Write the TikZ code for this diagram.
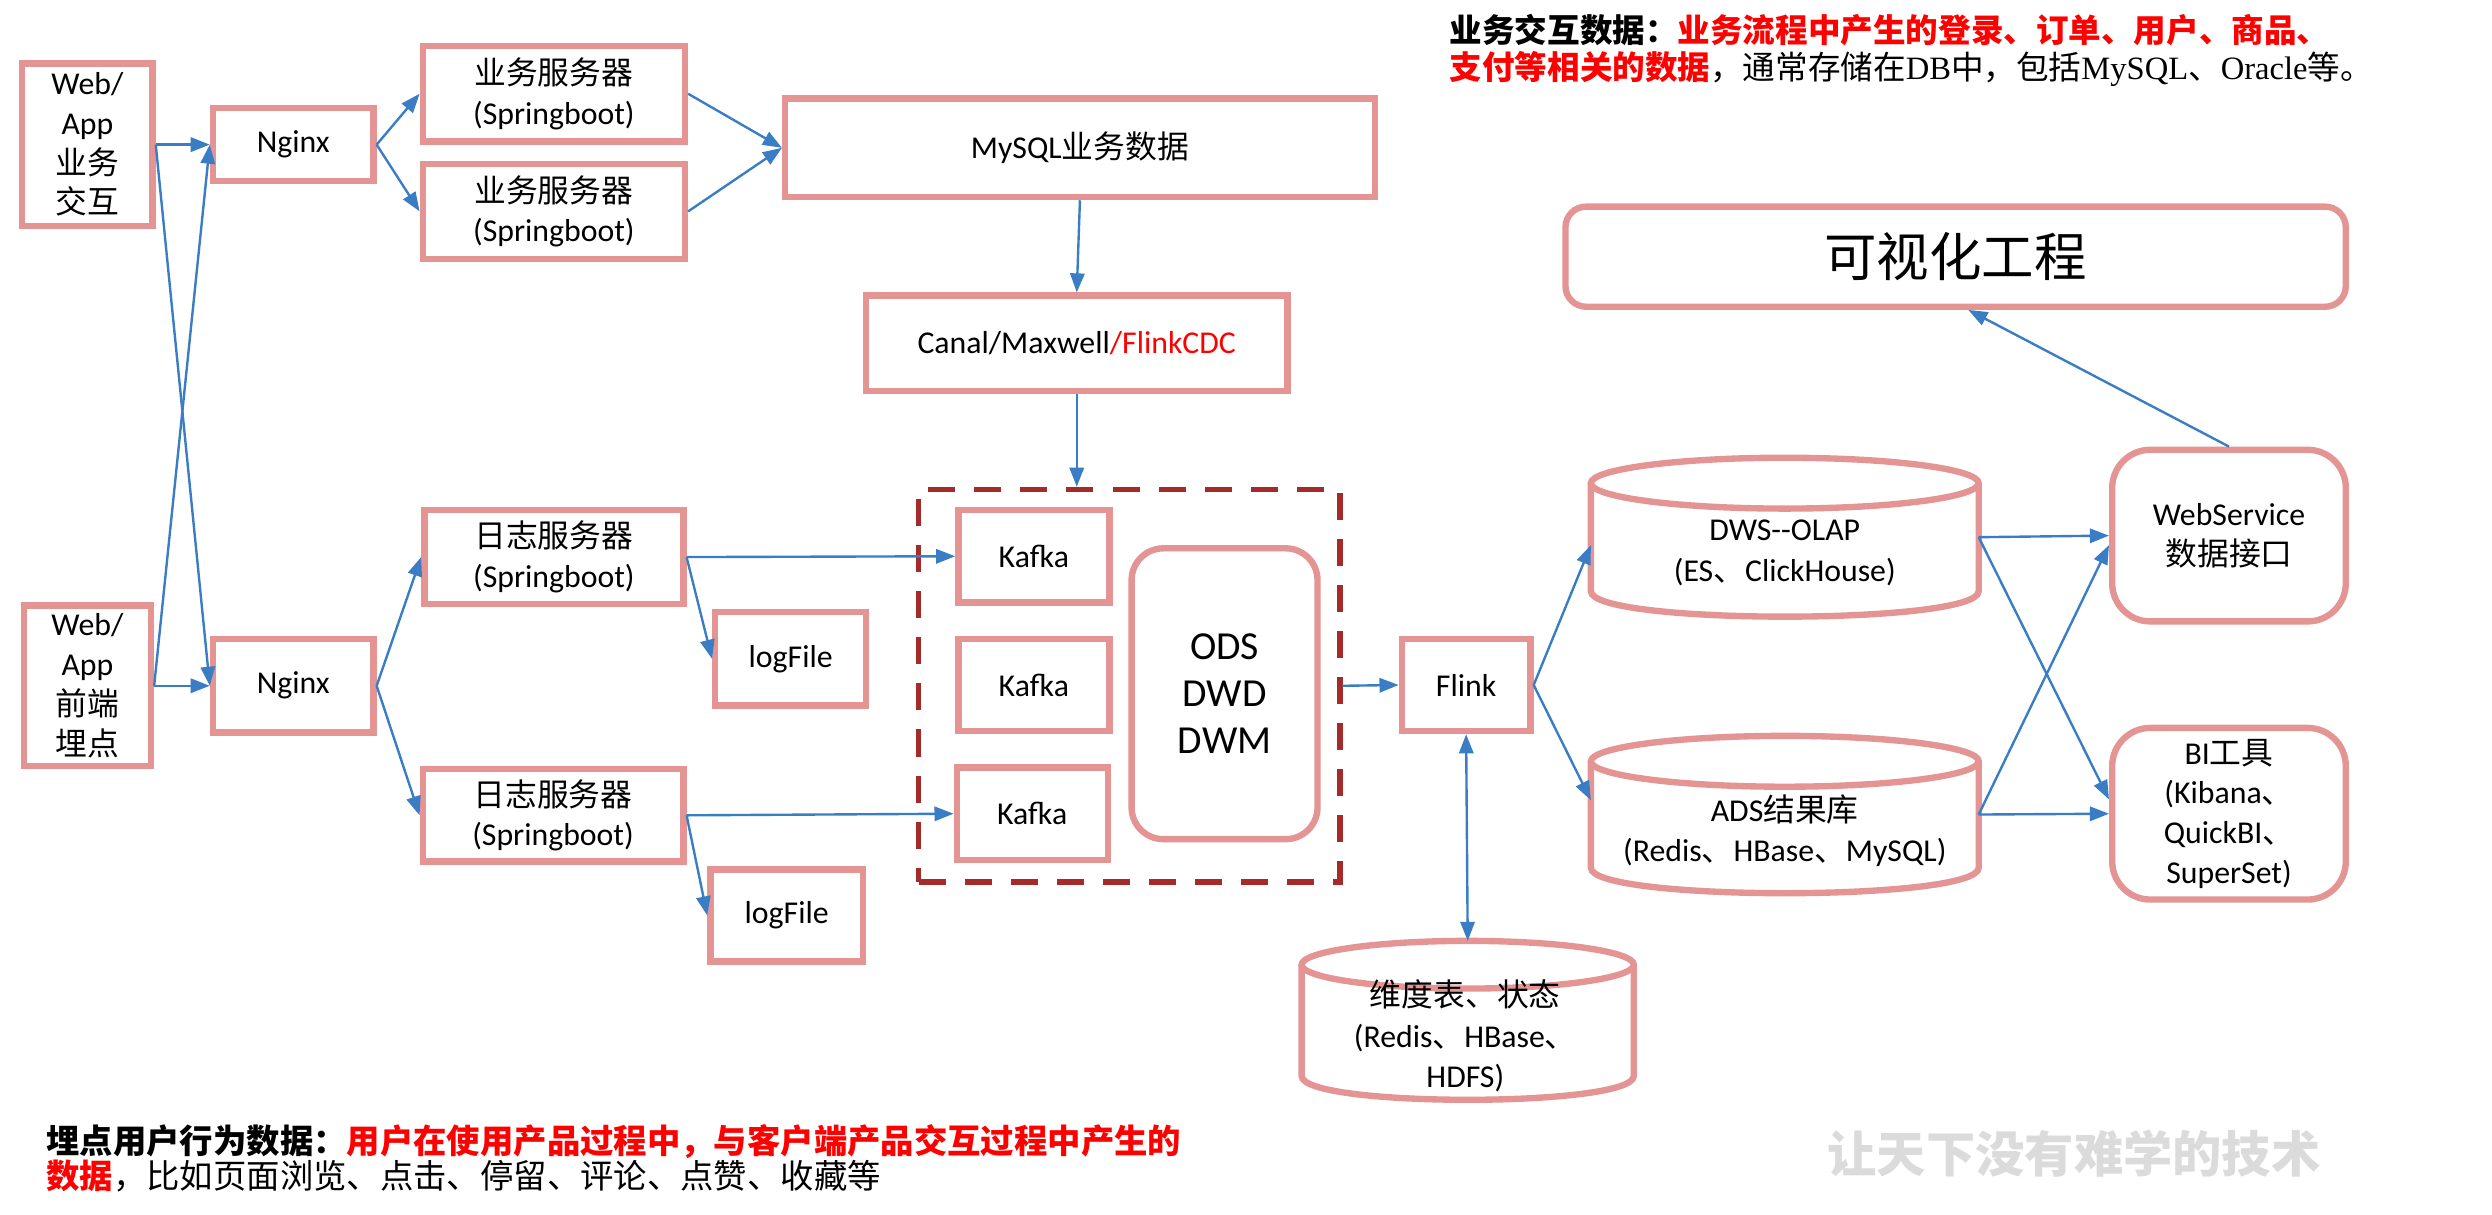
\documentclass[tikz,border=0pt]{standalone}
\usepackage{fontspec}
\setmainfont{Carlito}
\newfontfamily\cjk{Noto Sans CJK SC}
\newfontfamily\tnr{Liberation Serif}
\usetikzlibrary{arrows.meta}
\definecolor{pinkb}{HTML}{E59494}
\definecolor{dashr}{HTML}{A52A2A}
\definecolor{arrblue}{HTML}{3B7DC4}
\definecolor{txtred}{HTML}{FF0000}
\newcommand\zh[1]{{\cjk #1}}
\newcommand\dbcyl[5]{%
  \draw[pinkline] (#1,#3+#5) -- (#1,#4-#5) .. controls (#1,#4+#5/3) and (#2,#4+#5/3) .. (#2,#4-#5) -- (#2,#3+#5);
  \draw[pinkline] ({(#1+#2)/2},#3+#5) ellipse [x radius={(#2-#1)/2}, y radius=#5];
}
\begin{document}
\begin{tikzpicture}[x=1pt,y=-1pt,
  boxtext/.style={font=\fontsize{20}{25}\selectfont, align=center, inner sep=0pt},
  pinkline/.style={draw=pinkb, line width=4pt},
  pbox/.style={draw=pinkb, line width=4pt, fill=white, boxtext},
  rbox/.style={pbox, rounded corners=#1},
  dashbox/.style={draw=dashr, line width=3.5pt, dash pattern=on 17pt off 12pt, inner sep=0pt},
  anchorbox/.style={inner sep=0pt, outer sep=0pt},
  sz/.style 2 args={minimum width=#1pt, minimum height=#2pt},
  arr/.style={draw=arrblue, line width=1.5pt, -{Triangle[length=12pt,width=9pt]}},
  darr/.style={draw=arrblue, line width=1.5pt, {Triangle[length=12pt,width=9pt]}-{Triangle[length=12pt,width=9pt]}},
  notetext/.style={anchor=base west, inner sep=0pt, font=\cjk\fontsize{20.5}{23}\selectfont},
  bottext/.style={anchor=base west, inner sep=0pt, font=\cjk\fontsize{21}{22}\selectfont}
]
\useasboundingbox (0,0) rectangle (1568,764);
\fill[white] (0,0) rectangle (1568,764);

% left column
\node[pbox, sz={82}{102}] (webA) at (55,91) {Web/\\App\\\zh{业务}\\\zh{交互}};
\node[pbox, sz={80}{101}] (webB) at (55,431.5) {Web/\\App\\\zh{前端}\\\zh{埋点}};
\node[pbox, sz={101}{46}] (ngA) at (184.5,91) {Nginx};
\node[pbox, sz={101}{59}] (ngB) at (184.5,431.5) {Nginx};

% servers
\node[pbox, sz={165}{60}] (svA1) at (348.5,59) {\zh{业务服务器}\\(Springboot)};
\node[pbox, sz={165}{60}] (svA2) at (348.5,133) {\zh{业务服务器}\\(Springboot)};
\node[pbox, sz={163}{59}] (lgA) at (348.5,350.5) {\zh{日志服务器}\\(Springboot)};
\node[pbox, sz={164}{58}] (lgB) at (348,513) {\zh{日志服务器}\\(Springboot)};
\node[pbox, sz={95}{59}] (lfA) at (497.5,414.5) {logFile};
\node[pbox, sz={96}{58}] (lfB) at (495,576) {logFile};

% business data path
\node[pbox, sz={371}{62}] (mysql) at (679.5,93) {MySQL\zh{业务数据}};
\node[pbox, sz={265}{60}] (canal) at (677.5,216) {Canal/Maxwell\textcolor{txtred}{/FlinkCDC}};

% kafka group
\node[dashbox, sz={265}{247}] (dbox) at (710.5,431.5) {};
\node[pbox, sz={95}{58}] (kf1) at (650.5,350) {Kafka};
\node[pbox, sz={95}{58}] (kf2) at (650.5,431) {Kafka};
\node[pbox, sz={95}{58}] (kf3) at (649.5,512) {Kafka};
\node[rbox=20pt, sz={117}{183}, font=\fontsize{25}{29.5}\selectfont] (ods) at (770.5,436.5) {ODS\\DWD\\DWM};

\node[pbox, sz={81}{58}] (flink) at (922.5,431) {Flink};

% cylinders
\dbcyl{1001}{1245}{288}{388}{16}
\node[anchorbox, sz={244}{100}] (dws) at (1123,338) {};
\node[boxtext, font=\fontsize{20}{26}\selectfont] (dwsT) at (1123,348) {DWS-{}-OLAP\\(ES\zh{、}ClickHouse)};

\dbcyl{1001}{1245}{463}{562}{16}
\node[anchorbox, sz={244}{99}] (ads) at (1123,512.5) {};
\node[boxtext] (adsT) at (1123,522.5) {ADS\zh{结果库}\\(Redis\zh{、}HBase\zh{、}MySQL)};

\dbcyl{819}{1028}{592}{692}{15}
\node[anchorbox, sz={209}{100}] (dim) at (923.5,642) {};
\node[boxtext, font=\fontsize{20}{25.5}\selectfont] (dimT) at (922,652) {\zh{维度表、状态}\\(Redis\zh{、}HBase\zh{、}\\HDFS)};

% right column
\node[rbox=13pt, sz={491}{63}, font=\cjk\fontsize{33}{40}\selectfont] (vis) at (1230.5,161.5) {可视化工程};
\node[rbox=24pt, sz={147}{108}] (ws) at (1402.5,337) {WebService\\\zh{数据接口}};
\node[rbox=24pt, sz={147}{108}] (bi) at (1402.5,512) {BI\zh{工具}\\(Kibana\zh{、}\\QuickBI\zh{、}\\SuperSet)};

% notes
\node[notetext] (n1) at (912,26.8) {{\bfseries 业务交互数据：}\textcolor{txtred}{\bfseries 业务流程中产生的登录、订单、用户、商品、}};
\node[notetext] (n2) at (912,49.8) {\textcolor{txtred}{\bfseries 支付等相关的数据}，通常存储在{\tnr DB}中，包括{\tnr MySQL}、{\tnr Oracle}等。};
\node[bottext] (b1) at (29,726) {{\bfseries 埋点用户行为数据：}\textcolor{txtred}{\bfseries 用户在使用产品过程中，与客户端产品交互过程中产生的}};
\node[bottext] (b2) at (29,748) {\textcolor{txtred}{\bfseries 数据}，比如页面浏览、点击、停留、评论、点赞、收藏等};
\node[font=\cjk\bfseries\fontsize{31}{31}\selectfont, text=gray!28, inner sep=0pt] (wm) at (1305,726) {让天下没有难学的技术};

% connectors
\draw[arr] (webA.east) -- (ngA.west);
\draw[arr] (webA.east) -- (ngB.west);
\draw[arr] (webB.east) -- (ngB.west);
\draw[arr] (webB.east) -- (ngA.west);
\draw[arr] (ngA.east) -- (svA1.west);
\draw[arr] (ngA.east) -- (svA2.west);
\draw[arr] (svA1.east) -- (mysql.west);
\draw[arr] (svA2.east) -- (mysql.west);
\draw[arr] (mysql.south) -- (canal.north);
\draw[arr] (canal.south) -- (canal.south |- dbox.north);
\draw[arr] (ngB.east) -- (lgA.west);
\draw[arr] (ngB.east) -- (lgB.west);
\draw[arr] (lgA.east) -- (kf1.west);
\draw[arr] (lgA.east) -- (lfA.west);
\draw[arr] (lgB.east) -- (kf3.west);
\draw[arr] (lgB.east) -- (lfB.west);
\draw[arr] (dbox.east) -- (flink.west);
\draw[darr] (flink.south) -- (dim.north);
\draw[arr] (flink.east) -- ([yshift=-5pt]dws.west);
\draw[arr] (flink.east) -- ([yshift=9pt]ads.west);
\draw[arr] (dws.east) -- (ws.west);
\draw[arr] (dws.east) -- ([yshift=9pt]bi.west);
\draw[arr] (ads.east) -- (bi.west);
\draw[arr] (ads.east) -- ([yshift=-6pt]ws.west);
\draw[arr] (ws.north) -- ([xshift=8pt]vis.south);
\end{tikzpicture}
\end{document}
